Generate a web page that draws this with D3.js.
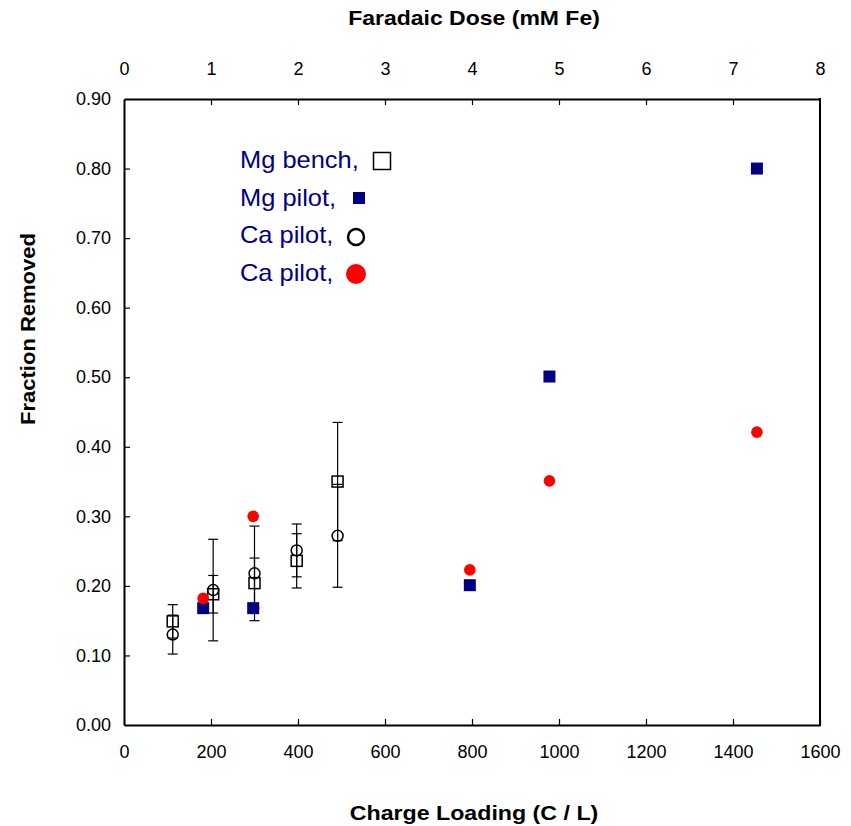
<!DOCTYPE html>
<html>
<head>
<meta charset="utf-8">
<script src="https://cdn.jsdelivr.net/npm/d3@7"></script>
<style>
  html, body { margin: 0; padding: 0; background: #fff; }
  svg { display: block; font-family: Arial, "Liberation Sans", sans-serif; }
</style>
</head>
<body>
<svg id="chart" width="851" height="826"></svg>
<script>
// Bench-scale runs (charge loading, C/L) with replicate error bars
const benchLoading = [112, 205, 300, 397, 491];
const mgBench      = [0.149, 0.188, 0.204, 0.236, 0.350];
const mgBenchErr   = [0.024, 0.027, 0.036, 0.039, 0.085];
const caOpen       = [0.130, 0.194, 0.218, 0.251, 0.272];
const caOpenErr    = [0.028, 0.073, 0.068, 0.038, 0.074];

// Pilot-scale runs
const pilotLoading = [182, 297, 795, 978, 1455];
const mgPilot      = [0.168, 0.168, 0.201, 0.501, 0.800];
const caPilot      = [0.182, 0.300, 0.223, 0.351, 0.421];

// Axis ticks
const loadingTicks = [0, 200, 400, 600, 800, 1000, 1200, 1400, 1600];
const doseTicks    = [0, 1, 2, 3, 4, 5, 6, 7, 8];
const fractionTicks = [0, 0.1, 0.2, 0.3, 0.4, 0.5, 0.6, 0.7, 0.8, 0.9];

const legendLabels = ["Mg bench,", "Mg pilot,", "Ca pilot,", "Ca pilot,"];

const NAVY = "#000080", RED = "#ff0000";
const margin = { top: 99, right: 31, bottom: 101, left: 124 };
const W = 851, H = 826;
const svg = d3.select("#chart");

const x = d3.scaleLinear().domain([0, 1600]).range([margin.left, W - margin.right]);
const xTop = d3.scaleLinear().domain([0, 8]).range([margin.left, W - margin.right]);
const y = d3.scaleLinear().domain([0, 0.9]).range([H - margin.bottom, margin.top]);

function styleAxis(g) {
  g.selectAll(".domain").attr("stroke", "#000").attr("stroke-width", 2);
  g.selectAll(".tick line").attr("stroke", "#000").attr("stroke-width", 1.2);
  g.selectAll(".tick text").attr("font-size", 18).attr("fill", "#000")
    .attr("font-family", "Arial, 'Liberation Sans', sans-serif");
}

// Bottom axis: charge loading
svg.append("g")
  .attr("transform", `translate(0,${y(0)})`)
  .call(d3.axisBottom(x).tickValues(loadingTicks).tickFormat(d3.format("d"))
    .tickSizeInner(-6).tickSizeOuter(0).tickPadding(20))
  .call(styleAxis);

// Top axis: Faradaic dose
svg.append("g")
  .attr("transform", `translate(0,${y(0.9)})`)
  .call(d3.axisTop(xTop).tickValues(doseTicks).tickFormat(d3.format("d"))
    .tickSizeInner(-6).tickSizeOuter(0).tickPadding(24))
  .call(styleAxis)
  .call(g => g.selectAll(".tick line").filter(d => d === 0 || d === 8).remove());

// Left axis: fraction removed
svg.append("g")
  .attr("transform", `translate(${x(0)},0)`)
  .call(d3.axisLeft(y).tickValues(fractionTicks).tickFormat(d3.format(".2f"))
    .tickSizeInner(-6).tickSizeOuter(0).tickPadding(13))
  .call(styleAxis)
  .call(g => g.selectAll(".tick line").filter(d => d === 0 || d === 0.9).remove());

// Right frame edge
svg.append("line")
  .attr("x1", x(1600)).attr("x2", x(1600))
  .attr("y1", y(0.9) - 1).attr("y2", y(0) + 1)
  .attr("stroke", "#000").attr("stroke-width", 2);

// Axis titles (bold, slightly widened lettering)
function title(transform, label) {
  svg.append("text")
    .attr("transform", transform)
    .attr("font-size", 20).attr("font-weight", "bold")
    .attr("fill", "#000").attr("text-anchor", "middle")
    .text(label);
}
const midX = (x(0) + x(1600)) / 2;
title(`translate(${midX + 2},25) scale(1.15,1)`, "Faradaic Dose (mM Fe)");
title(`translate(${midX + 2},820) scale(1.16,1)`, "Charge Loading (C / L)");
title("translate(35,329) rotate(-90) scale(1.1,1)", "Fraction Removed");

// Bench data with error bars
const bench = benchLoading.map((v, i) => ({
  x: v, mg: mgBench[i], mgErr: mgBenchErr[i], ca: caOpen[i], caErr: caOpenErr[i]
}));

const errRows = [];
bench.forEach(d => {
  errRows.push({ x: d.x, v: d.mg, e: d.mgErr });
  errRows.push({ x: d.x, v: d.ca, e: d.caErr });
});

const cap = 5;
const eb = svg.append("g").attr("stroke", "#000").attr("stroke-width", 1.2);
eb.selectAll(".stem").data(errRows).join("line")
  .attr("x1", d => x(d.x)).attr("x2", d => x(d.x))
  .attr("y1", d => y(d.v - d.e)).attr("y2", d => y(d.v + d.e));
eb.selectAll(".capTop").data(errRows).join("line")
  .attr("x1", d => x(d.x) - cap).attr("x2", d => x(d.x) + cap)
  .attr("y1", d => y(d.v + d.e)).attr("y2", d => y(d.v + d.e));
eb.selectAll(".capBot").data(errRows).join("line")
  .attr("x1", d => x(d.x) - cap).attr("x2", d => x(d.x) + cap)
  .attr("y1", d => y(d.v - d.e)).attr("y2", d => y(d.v - d.e));

// Mg bench: open squares
svg.append("g").selectAll("rect").data(bench).join("rect")
  .attr("x", d => x(d.x) - 5.5).attr("y", d => y(d.mg) - 5.5)
  .attr("width", 11).attr("height", 11)
  .attr("fill", "none").attr("stroke", "#000").attr("stroke-width", 1.5);

// Ca (open circles)
svg.append("g").selectAll("circle").data(bench).join("circle")
  .attr("cx", d => x(d.x)).attr("cy", d => y(d.ca)).attr("r", 5.5)
  .attr("fill", "none").attr("stroke", "#000").attr("stroke-width", 1.5);

const pilot = pilotLoading.map((v, i) => ({ x: v, mg: mgPilot[i], ca: caPilot[i] }));

// Mg pilot: filled navy squares
svg.append("g").selectAll("rect").data(pilot).join("rect")
  .attr("x", d => x(d.x) - 6).attr("y", d => y(d.mg) - 6)
  .attr("width", 12).attr("height", 12).attr("fill", NAVY);

// Ca pilot: filled red circles
svg.append("g").selectAll("circle").data(pilot).join("circle")
  .attr("cx", d => x(d.x)).attr("cy", d => y(d.ca)).attr("r", 5.8)
  .attr("fill", RED);

// Legend
const legend = svg.append("g");
const legendBase = [168, 205.5, 243, 280.5];
legend.selectAll("text").data(legendLabels).join("text")
  .attr("transform", (d, i) => `translate(240,${legendBase[i]}) scale(1.06,1)`)
  .attr("font-size", 24).attr("fill", NAVY)
  .text(d => d);

legend.append("rect").attr("x", 373.5).attr("y", 152.5).attr("width", 17).attr("height", 17)
  .attr("fill", "none").attr("stroke", "#000").attr("stroke-width", 1.5);
legend.append("rect").attr("x", 353).attr("y", 192).attr("width", 12).attr("height", 12)
  .attr("fill", NAVY);
legend.append("circle").attr("cx", 356).attr("cy", 237).attr("r", 8)
  .attr("fill", "none").attr("stroke", "#000").attr("stroke-width", 2.5);
legend.append("circle").attr("cx", 356).attr("cy", 274).attr("r", 10)
  .attr("fill", RED);
</script>
</body>
</html>
